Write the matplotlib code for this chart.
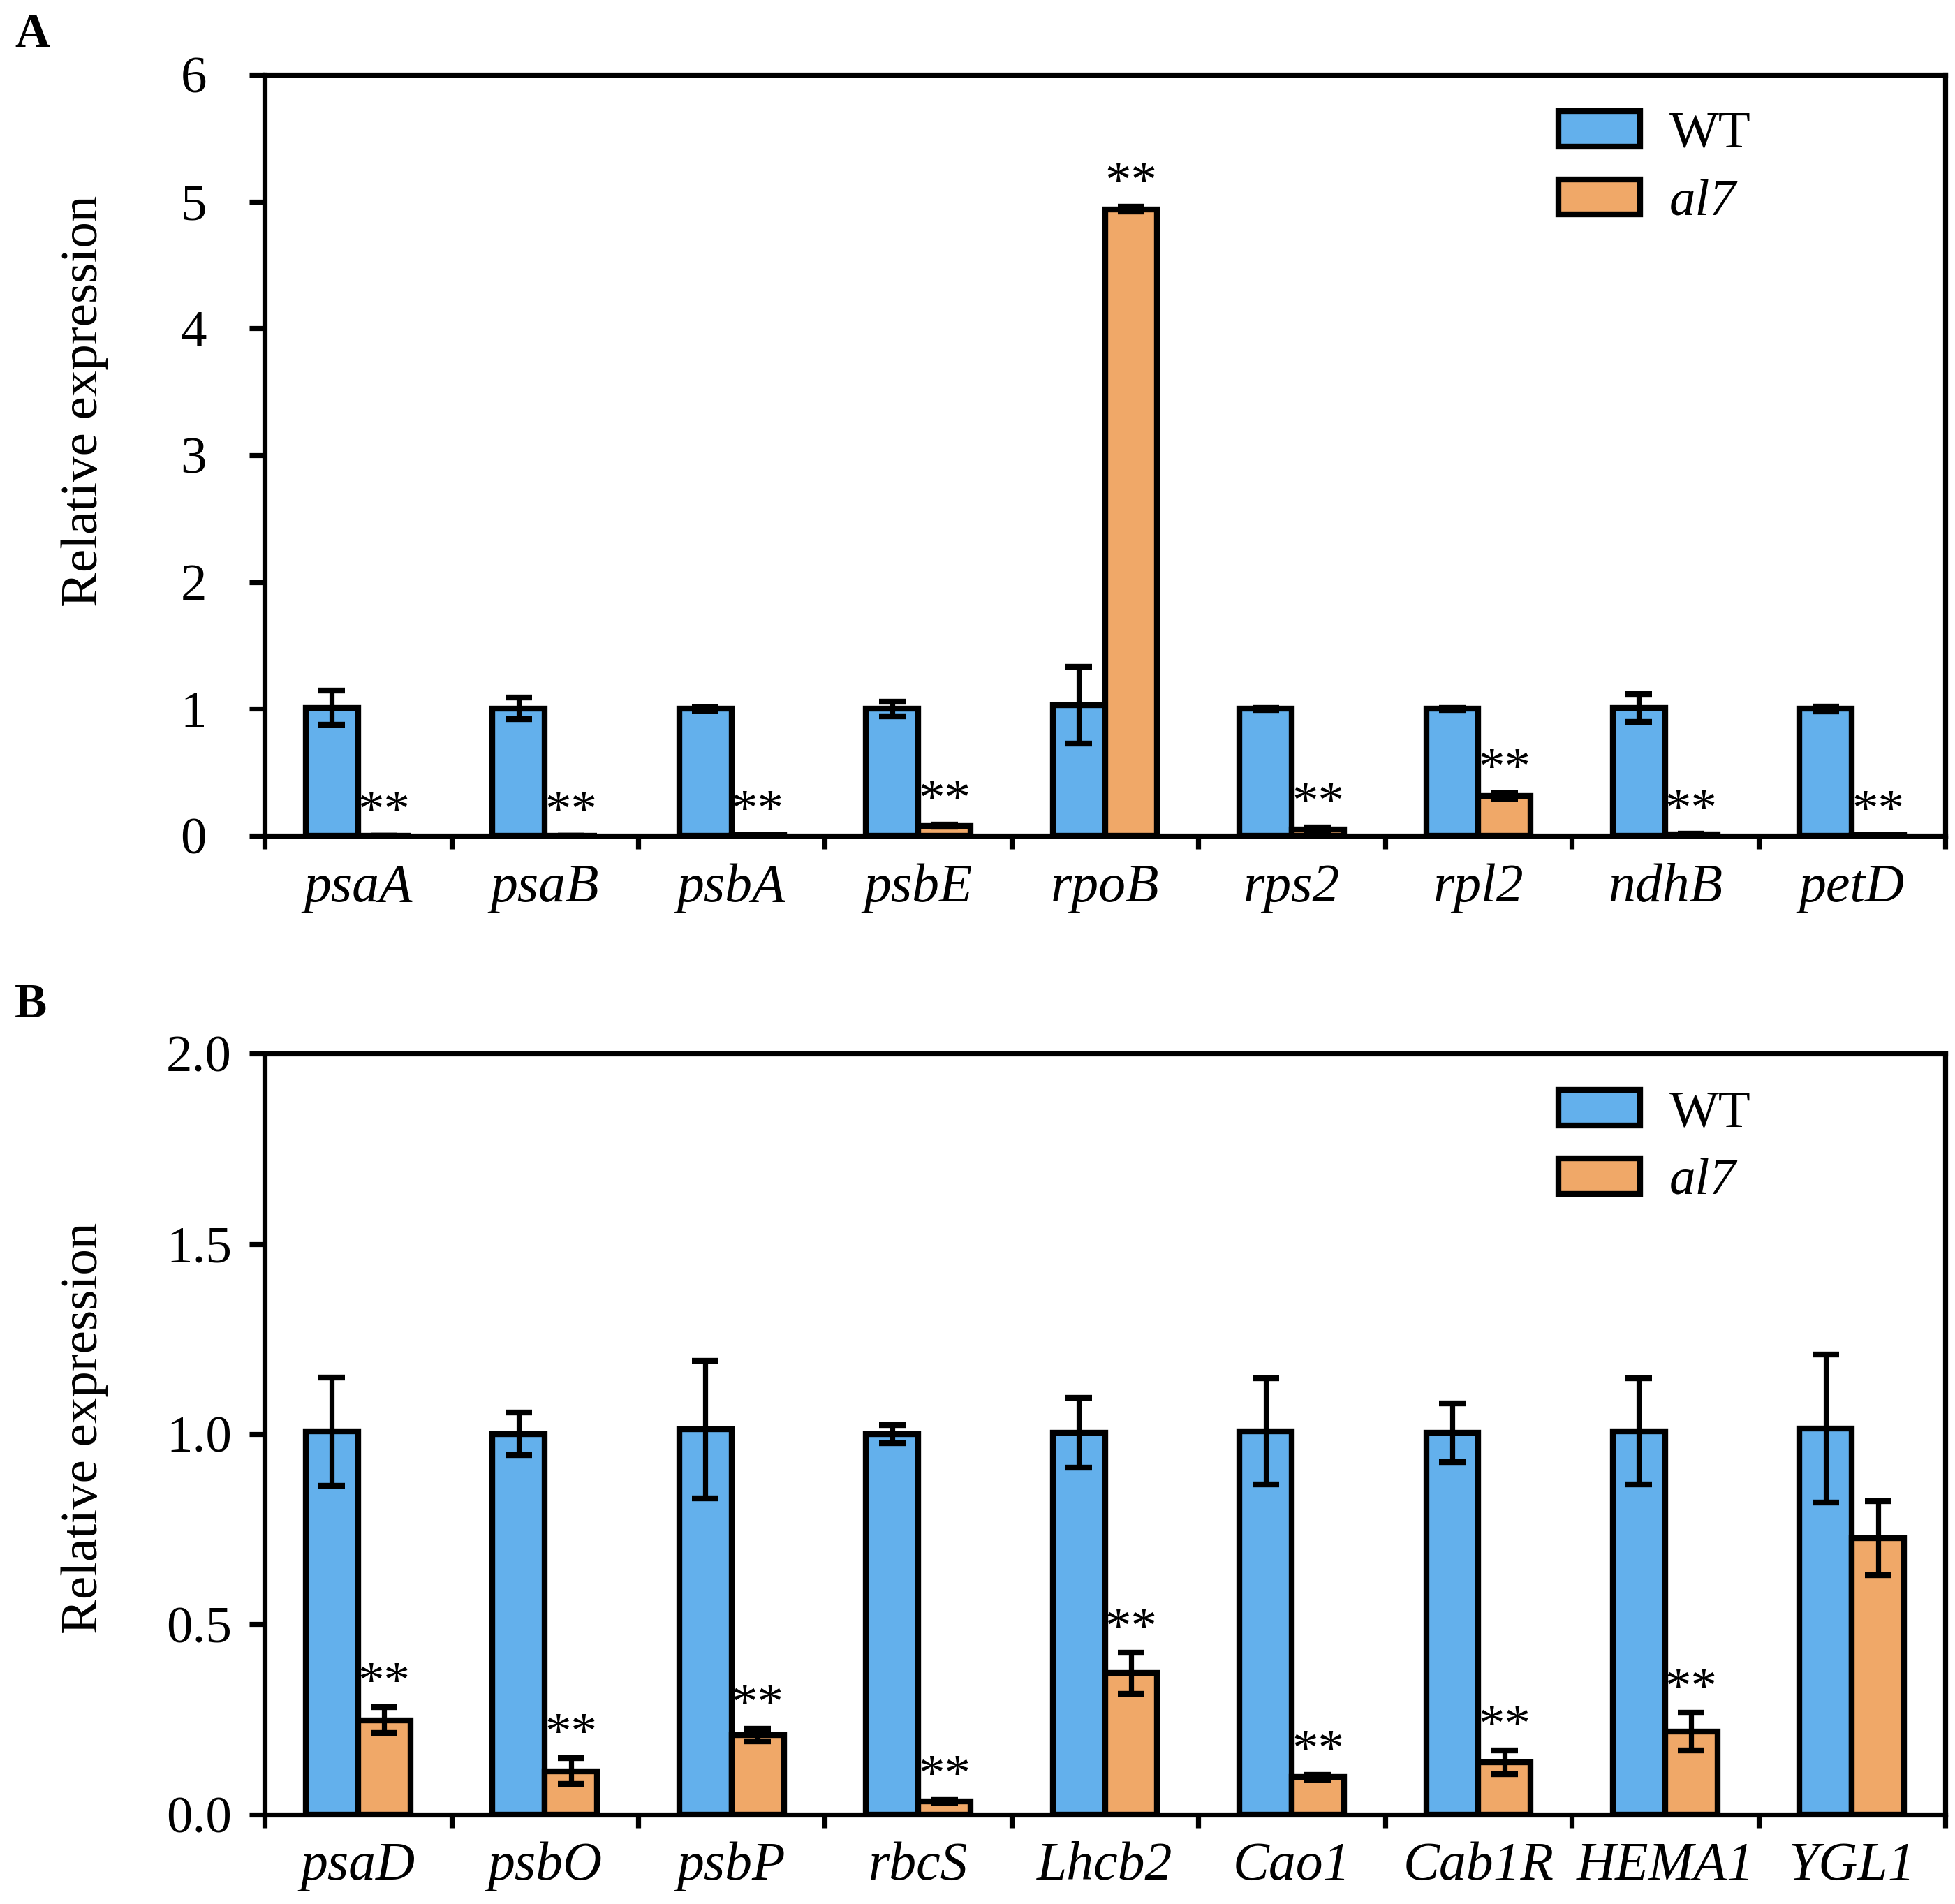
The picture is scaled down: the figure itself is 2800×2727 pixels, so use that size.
import numpy as np
import matplotlib
matplotlib.use("Agg")
import matplotlib.pyplot as plt
from matplotlib.patches import Patch
from matplotlib.ticker import FixedLocator

plt.rcParams['font.family'] = ['Liberation Serif', 'DejaVu Serif']

# ---------------- data ----------------
genes_A = ['psaA', 'psaB', 'psbA', 'psbE', 'rpoB', 'rps2', 'rpl2', 'ndhB', 'petD']
wt_A = [1.01, 1.005, 1.0, 1.0, 1.03, 1.0, 1.0, 1.01, 1.0]
wt_A_err = [0.135, 0.085, 0.015, 0.06, 0.30, 0.01, 0.01, 0.11, 0.02]
al7_A = [0.0, 0.0, 0.005, 0.08, 4.94, 0.05, 0.315, 0.01, 0.005]
al7_A_err = [0.0, 0.0, 0.002, 0.01, 0.02, 0.015, 0.02, 0.005, 0.003]
sig_A = [True, True, True, True, True, True, True, True, True]

genes_B = ['psaD', 'psbO', 'psbP', 'rbcS', 'Lhcb2', 'Cao1', 'Cab1R', 'HEMA1', 'YGL1']
wt_B = [1.007, 1.0, 1.012, 1.0, 1.004, 1.007, 1.004, 1.007, 1.015]
wt_B_err = [0.142, 0.056, 0.18, 0.024, 0.092, 0.14, 0.077, 0.14, 0.194]
al7_B = [0.248, 0.114, 0.209, 0.035, 0.372, 0.098, 0.138, 0.218, 0.727]
al7_B_err = [0.034, 0.034, 0.016, 0.004, 0.054, 0.006, 0.031, 0.05, 0.097]
sig_B = [True, True, True, True, True, True, True, True, False]

yticks_A = [0, 1, 2, 3, 4, 5, 6]
ytick_labels_A = ['0', '1', '2', '3', '4', '5', '6']
yticks_B = [0.0, 0.5, 1.0, 1.5, 2.0]
ytick_labels_B = ['0.0', '0.5', '1.0', '1.5', '2.0']

series_names = ['WT', 'al7']

BLUE = '#63B0EC'
ORANGE = '#F0A868'

fig = plt.figure(figsize=(14, 13.635), dpi=200)
axA = fig.add_axes([0.1354, 0.561, 0.8596, 0.3998])
axB = fig.add_axes([0.1354, 0.047, 0.8596, 0.3996])


def draw(ax, genes, wt, wt_err, mu, mu_err, sig, yticks, ylabels, ytickpad, ylab_y):
    x = np.arange(len(genes))
    w = 0.28
    ax.bar(x - w / 2, wt, w, color=BLUE, edgecolor='black', linewidth=3.0, zorder=2)
    ax.bar(x + w / 2, mu, w, color=ORANGE, edgecolor='black', linewidth=3.0, zorder=2)
    ax.errorbar(x - w / 2, wt, yerr=wt_err, fmt='none', ecolor='black',
                elinewidth=2.6, capsize=7, capthick=3.0, zorder=3)
    ax.errorbar(x + w / 2, mu, yerr=mu_err, fmt='none', ecolor='black',
                elinewidth=2.6, capsize=7, capthick=3.0, zorder=3)
    for xi, v, e, s in zip(x, mu, mu_err, sig):
        if s:
            ax.annotate('**', (xi + w / 2, v + e), xytext=(0, 5),
                        textcoords='offset points', ha='center', va='baseline',
                        fontsize=27, zorder=4)
    ax.set_xlim(-0.5, len(genes) - 0.5)
    ax.set_ylim(yticks[0], yticks[-1])
    ax.set_yticks(yticks)
    ax.set_yticklabels(ylabels, fontsize=27)
    ax.set_xticks(x)
    ax.set_xticklabels(genes, fontsize=28, style='italic')
    ax.xaxis.set_minor_locator(FixedLocator(np.arange(-0.5, len(genes), 1.0)))
    ax.tick_params(axis='x', which='major', length=0, pad=14)
    ax.tick_params(axis='x', which='minor', length=7, width=2.6, direction='out')
    ax.tick_params(axis='y', which='major', length=8, width=2.6, direction='out', pad=ytickpad)
    for sp in ax.spines.values():
        sp.set_linewidth(2.6)
    ax.set_ylabel('Relative expression', fontsize=27)
    ax.yaxis.set_label_coords(-0.093, ylab_y)
    handles = [Patch(facecolor=BLUE, edgecolor='black', linewidth=3.0, joinstyle='round'),
               Patch(facecolor=ORANGE, edgecolor='black', linewidth=3.0, joinstyle='round')]
    leg = ax.legend(handles, series_names, loc='upper left', bbox_to_anchor=(0.770, 0.952),
                    frameon=False, fontsize=27, handlelength=1.56, handleheight=0.66,
                    handletextpad=0.55, labelspacing=0.4, borderpad=0, borderaxespad=0)
    leg.get_texts()[1].set_style('italic')


draw(axA, genes_A, wt_A, wt_A_err, al7_A, al7_A_err, sig_A, yticks_A, ytick_labels_A, 22, 0.571)
draw(axB, genes_B, wt_B, wt_B_err, al7_B, al7_B_err, sig_B, yticks_B, ytick_labels_B, 9, 0.508)

fig.text(21 / 2800, 1 - 18 / 2727, 'A', fontsize=25, fontweight='bold', va='top', ha='left')
fig.text(21 / 2800, 1 - 1408 / 2727, 'B', fontsize=25, fontweight='bold', va='top', ha='left')

fig.savefig('out.png', dpi=200)
